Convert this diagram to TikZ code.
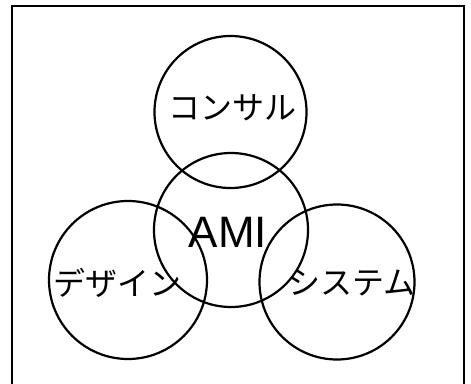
\documentclass[tikz,border=0pt]{standalone}
\usepackage{fontspec}
\setmainfont{Liberation Sans}
\newfontfamily\jpfont{Noto Sans CJK JP}
\begin{document}
\begin{tikzpicture}[x=1pt,y=-1pt,
  ring/.style={draw=black,line width=2.2pt,circle,inner sep=0pt},
  jplabel/.style={font=\jpfont\fontsize{32}{36}\selectfont,inner sep=0pt,anchor=center},
  amilabel/.style={font=\fontsize{44}{48}\selectfont,inner sep=0pt,anchor=center}]
\useasboundingbox (0,0) rectangle (471,383);
\coordinate (fbl) at (12,390);
\coordinate (ftl) at (12,6);
\coordinate (ftr) at (464,6);
\coordinate (fbr) at (464,390);
\draw[line width=2.2pt] (fbl) -- (ftl) -- (ftr) -- (fbr);
\node[ring,minimum size=152pt] (top) at (230.5,112) {};
\node[ring,minimum size=154pt] (mid) at (231,230) {};
\node[ring,minimum size=158pt] (left) at (128,280) {};
\node[ring,minimum size=155pt] (right) at (337,282) {};
\node[jplabel] (t1) at (232,108) {コンサル};
\node[amilabel] (t2) at (228,232) {AMI};
\node[jplabel] (t3) at (117,283) {デザイン};
\node[jplabel] (t4) at (352,283) {システム};
\end{tikzpicture}
\end{document}
